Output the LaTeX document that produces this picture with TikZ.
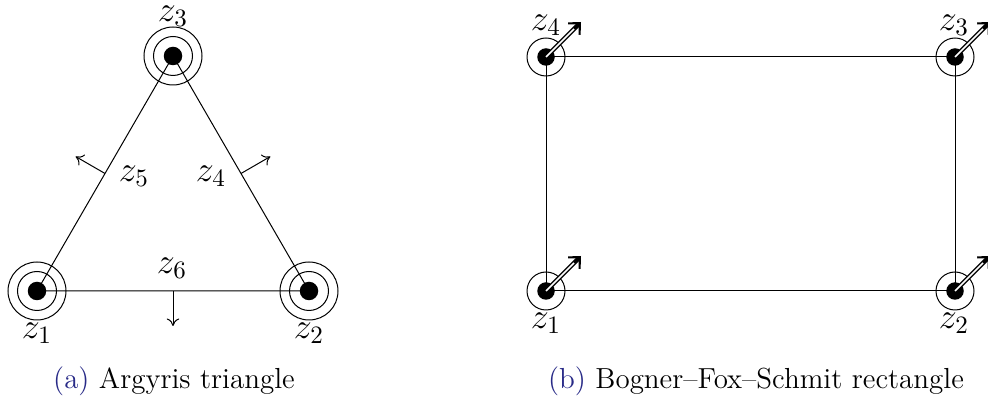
\documentclass[tikz,border=0pt]{standalone}
\usetikzlibrary{arrows.meta,calc}
\definecolor{capblue}{RGB}{40,42,135}
\begin{document}
\begin{tikzpicture}[x=0.4pt,y=-0.4pt,
  lbl/.style={font=\fontsize{14.5}{17}\selectfont,inner sep=0pt},
  captext/.style={font=\fontsize{11.6}{14}\selectfont},
  edge/.style={line width=0.4pt},
  normalarrow/.style={line width=0.4pt,-{To[length=3pt,width=5pt]}},
  dblouter/.style={line width=1.7pt,-{Straight Barb[length=3.4pt,width=6.4pt,line width=0.85pt]}},
  dblinner/.style={draw=white,line width=0.6pt},
  dotmark/.style={circle,fill=black,inner sep=0pt,minimum size=7.4pt},
  ringA/.style={circle,draw,line width=0.4pt,inner sep=0pt,minimum size=15.6pt},
  ringB/.style={circle,draw,line width=0.4pt,inner sep=0pt,minimum size=23.2pt}]
\useasboundingbox (0,0) rectangle (988,405);
% ---------- (a) Argyris triangle ----------
\coordinate (t1) at (37,291);
\coordinate (t2) at (309,291);
\coordinate (t3) at (173,56);
\draw[edge] (t1) -- (t2) -- (t3) -- cycle;
\coordinate (m12) at ($(t1)!0.5!(t2)$);
\coordinate (m13) at ($(t1)!0.5!(t3)$);
\coordinate (m23) at ($(t2)!0.5!(t3)$);
\coordinate (n12) at ($(m12)+(0,35)$);
\coordinate (n13) at ($(m13)+(-29.4,-17)$);
\coordinate (n23) at ($(m23)+(29.4,-17)$);
\draw[normalarrow] (m12) -- (n12);
\draw[normalarrow] (m13) -- (n13);
\draw[normalarrow] (m23) -- (n23);
\foreach \p in {t1,t2,t3}{
  \node[ringB] (\p o) at (\p) {};
  \node[ringA] (\p i) at (\p) {};
  \node[dotmark] (\p d) at (\p) {};
}
\node[lbl] (lt1) at (37,333) {$z_1$};
\node[lbl] (lt2) at (309,333) {$z_2$};
\node[lbl] (lt3) at (173,16) {$z_3$};
\node[lbl] (lt4) at (211,176) {$z_4$};
\node[lbl] (lt5) at (134,176) {$z_5$};
\node[lbl] (lt6) at (172,268) {$z_6$};
\node[captext] (capa) at (174,381) {\textcolor{capblue}{(a)} Argyris triangle};
% ---------- (b) Bogner-Fox-Schmit rectangle ----------
\coordinate (r1) at (546,291);
\coordinate (r2) at (955,291);
\coordinate (r3) at (955,57);
\coordinate (r4) at (546,57);
\draw[edge] (r1) -- (r2) -- (r3) -- (r4) -- cycle;
\foreach \p in {r1,r2,r3,r4}{
  \node[ringA,minimum size=15.2pt] (\p i) at (\p) {};
  \coordinate (\p a) at ($(\p)+(35,-35)$);
  \draw[dblouter] (\p) -- (\p a);
  \node[dotmark,minimum size=7pt] (\p d) at (\p) {};
  \draw[dblinner] (\p) -- ($(\p)!0.8!(\p a)$);
}
\node[lbl] (lr1) at (546,323) {$z_1$};
\node[lbl] (lr2) at (954,323) {$z_2$};
\node[lbl] (lr3) at (954,25) {$z_3$};
\node[lbl] (lr4) at (546,25) {$z_4$};
\node[captext] (capb) at (756,381) {\textcolor{capblue}{(b)} Bogner--Fox--Schmit rectangle};
\end{tikzpicture}
\end{document}
